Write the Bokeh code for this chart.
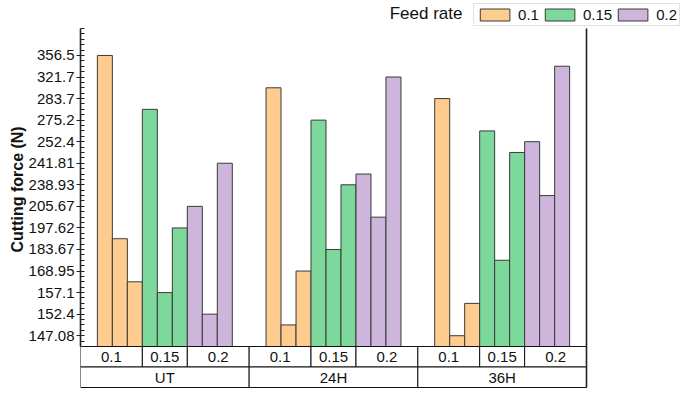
import math
from bokeh.plotting import figure
from bokeh.models import Range1d, FixedTicker, Legend, LegendItem, Label, Title, ColumnDataSource
from bokeh.core.properties import value
from bokeh.embed import file_html
from bokeh.resources import INLINE

# ---------------- data ----------------
groups = ["UT", "24H", "36H"]
feed_rates = ["0.1", "0.15", "0.2"]
# bar heights on the chart's ordinal force axis (position units, 3 bars per feed rate per group)
force_pos_f01 = [27, 10, 6, 24, 2, 7, 23, 1, 4]
force_pos_f015 = [22, 5, 11, 21, 9, 15, 20, 8, 18]
force_pos_f02 = [13, 3, 17, 16, 12, 25, 19, 14, 26]
tick_pos = [1, 3, 5, 7, 9, 11, 13, 15, 17, 19, 21, 23, 25, 27]
tick_labels = ["147.08", "152.4", "157.1", "168.95", "183.67", "197.62", "205.67",
               "238.93", "241.81", "252.4", "275.2", "283.7", "321.7", "356.5"]
axis_top = 29.5
colors = ["#FFCC8F", "#7DD99B", "#CDB5DB"]
series = [force_pos_f01, force_pos_f015, force_pos_f02]

# ---------------- layout ----------------
W, H = 683, 388
left_border = 80
frame_w = W - left_border
pad = 1.125
bars_per_sub = 3
group_w = len(feed_rates) * bars_per_sub + 2 * pad
plot_w_px = 506
px_x = plot_w_px / (len(groups) * group_w)
x_end = frame_w / px_x

top_px = 28      # canvas y of axis top
base_px = 346    # canvas y of baseline
u = (base_px - top_px) / axis_top
row_h = 20.5 / u
y_start = -(H - base_px) / u
y_end = base_px / u

FONT = "Liberation Sans"

p = figure(width=W, height=H, output_backend="svg", toolbar_location=None,
           x_range=Range1d(0, x_end), y_range=Range1d(y_start, y_end),
           x_axis_location=None, min_border_left=left_border, min_border_right=0,
           min_border_top=0, min_border_bottom=0)
p.outline_line_color = None
p.grid.visible = False
p.background_fill_color = "white"
p.border_fill_color = "white"

# bars
renderers = []
for s, (vals, col) in enumerate(zip(series, colors)):
    xs = []
    for i in range(len(vals)):
        g, k = divmod(i, bars_per_sub)
        xs.append(g * group_w + pad + s * bars_per_sub + k + 0.5)
    src = ColumnDataSource(dict(x=xs, top=vals))
    r = p.vbar(x="x", top="top", bottom=0, width=1.0, source=src,
               fill_color=col, line_color="#3a3a3a", line_width=1)
    renderers.append(r)

# category boxes
sub_l, sub_r, sub_x, sub_t = [], [], [], []
grp_l, grp_r, grp_x = [], [], []
for g, gname in enumerate(groups):
    g0 = g * group_w
    for s, fr in enumerate(feed_rates):
        l = g0 if s == 0 else g0 + pad + s * bars_per_sub
        r = g0 + group_w if s == len(feed_rates) - 1 else g0 + pad + (s + 1) * bars_per_sub
        sub_l.append(l); sub_r.append(r); sub_x.append((l + r) / 2); sub_t.append(fr)
    grp_l.append(g0); grp_r.append(g0 + group_w); grp_x.append(g0 + group_w / 2)

p.quad(left=sub_l, right=sub_r, top=0, bottom=-row_h, fill_color="white",
       line_color="#111111", line_width=1)
p.quad(left=grp_l, right=grp_r, top=-row_h, bottom=-2 * row_h, fill_color="white",
       line_color="#111111", line_width=1)
p.text(x=sub_x, y=[-row_h / 2] * len(sub_x), text=sub_t, text_font=value(FONT),
       text_font_size=value("15px"), text_align="center", text_baseline="middle",
       text_color="#111111")
p.text(x=grp_x, y=[-1.5 * row_h] * len(grp_x), text=groups, text_font=value(FONT),
       text_font_size=value("15px"), text_align="center", text_baseline="middle",
       text_color="#111111")

# right frame line
xr = len(groups) * group_w
p.segment(x0=[xr], y0=[-2 * row_h], x1=[xr], y1=[axis_top], line_color="#222222",
          line_width=1.6)

# y axis
minor = [i * 0.5 for i in range(int(axis_top * 2) + 1) if (i * 0.5) not in tick_pos]
p.yaxis.ticker = FixedTicker(ticks=tick_pos, minor_ticks=minor)
p.yaxis.major_label_overrides = {t: lab for t, lab in zip(tick_pos, tick_labels)}
p.yaxis.bounds = (0, axis_top)
p.yaxis.axis_line_color = "#222222"
p.yaxis.axis_line_width = 1.6
p.yaxis.major_tick_in = 4
p.yaxis.major_tick_out = 4
p.yaxis.minor_tick_in = 4
p.yaxis.minor_tick_out = 0
p.yaxis.major_tick_line_color = "#222222"
p.yaxis.minor_tick_line_color = "#222222"
p.yaxis.major_label_standoff = 2
p.yaxis.major_label_text_font = FONT
p.yaxis.major_label_text_font_size = "15px"
p.yaxis.major_label_text_color = "#111111"

# y axis title, positioned along the bounded axis (offset from the frame bottom)
ytitle = Title(text="Cutting force (N)", align="left", offset=136,
               text_font=FONT, text_font_size="16px", text_font_style="bold",
               text_color="#111111", standoff=0)
p.add_layout(ytitle, "left")

# legend
legend = Legend(items=[LegendItem(label=fr, renderers=[r]) for fr, r in zip(feed_rates, renderers)],
                orientation="horizontal", location="top_right", margin=3, padding=2,
                spacing=2, glyph_width=37, glyph_height=15, label_height=15,
                label_standoff=5, label_text_font=FONT, label_text_font_size="15px",
                label_text_color="#111111", border_line_color="#c4c4c4",
                border_line_width=1, background_fill_color="white", background_fill_alpha=1)
p.add_layout(legend)

ftitle = Label(x=(470 - 88) / px_x, y=(base_px - 13) / u, text="Feed rate",
               text_font=FONT, text_font_size="17px", text_align="right",
               text_baseline="middle", text_color="#111111")
p.add_layout(ftitle)

open("out.html", "w").write(file_html(p, INLINE))
